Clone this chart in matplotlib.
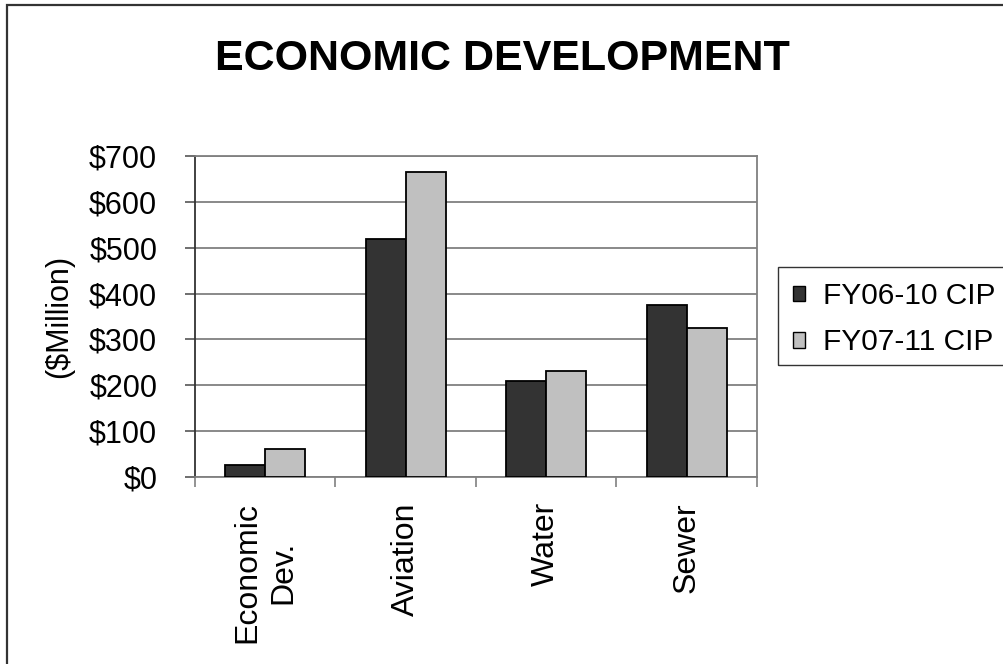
import matplotlib
matplotlib.use('Agg')
import matplotlib.pyplot as plt
import numpy as np
from matplotlib.patches import Rectangle

categories = ['Economic\nDev.', 'Aviation', 'Water', 'Sewer']
fy06_10 = [27, 518, 209, 374]
fy07_11 = [60, 665, 231, 326]
series_labels = ['FY06-10 CIP', 'FY07-11 CIP']
yticks = [0, 100, 200, 300, 400, 500, 600, 700]

plt.rcParams['font.family'] = ['Liberation Sans', 'DejaVu Sans']

W, H = 1004, 664
fig = plt.figure(figsize=(W/100, H/100), dpi=100)
# outer chart border (right and bottom edges fall outside the picture)
fig.patches.append(Rectangle((7/W, -0.05), 1.05, 1.05 - 5/H, transform=fig.transFigure,
                             fill=False, edgecolor='#333333', linewidth=1.6))

ax = fig.add_axes([195/W, 1 - 477/H, (757 - 195)/W, (477 - 156)/H])

x = np.arange(len(categories))
width = 0.285
ax.bar(x - width/2, fy06_10, width, color='#333333', edgecolor='black', linewidth=1.3,
       label=series_labels[0], zorder=3)
ax.bar(x + width/2, fy07_11, width, color='#c0c0c0', edgecolor='black', linewidth=1.3,
       label=series_labels[1], zorder=3)

ax.set_xlim(-0.5, len(categories) - 0.5)
ax.set_ylim(0, 700)
ax.set_yticks(yticks)
ax.set_yticklabels(['$%d' % v for v in yticks], fontsize=22)
ax.yaxis.grid(True, color='#808080', linewidth=1.3, zorder=0)

ax.set_xticks(np.arange(len(categories) + 1) - 0.5)
ax.set_xticklabels([])
ax.set_xticks(x, minor=True)
ax.set_xticklabels(categories, minor=True, rotation=90, fontsize=23,
                   ha='center', va='top', multialignment='center', linespacing=1.25)
ax.tick_params(axis='x', which='minor', length=0, pad=18)
ax.tick_params(axis='x', which='major', length=7.2, width=1.2, color='#808080')
ax.tick_params(axis='y', length=7.2, width=1.2, color='#555555', pad=20)

for s in ax.spines.values():
    s.set_color('#808080')
    s.set_linewidth(1.3)
ax.spines['left'].set_color('#333333')

ax.set_ylabel('($Million)', fontsize=22, labelpad=11)

fig.text(0.5, 1 - 59/H, 'ECONOMIC DEVELOPMENT', ha='center', va='center',
         fontsize=31, fontweight='bold')

# legend entries without frame; the box runs past the right edge of the chart
leg = ax.legend(loc='upper left', bbox_to_anchor=(778/W, 1 - 267/H),
                bbox_transform=fig.transFigure, fontsize=21.5, frameon=False,
                handlelength=0.42, handleheight=0.42, handletextpad=0.6,
                borderpad=0.5, labelspacing=0.62, borderaxespad=0)
for h in leg.legend_handles:
    h.set_linewidth(1.0)
fig.patches.append(Rectangle((778/W, 1 - 365/H), 0.3, 98/H, transform=fig.transFigure,
                             fill=False, edgecolor='#333333', linewidth=1.0))

fig.savefig('out.png', dpi=100)
